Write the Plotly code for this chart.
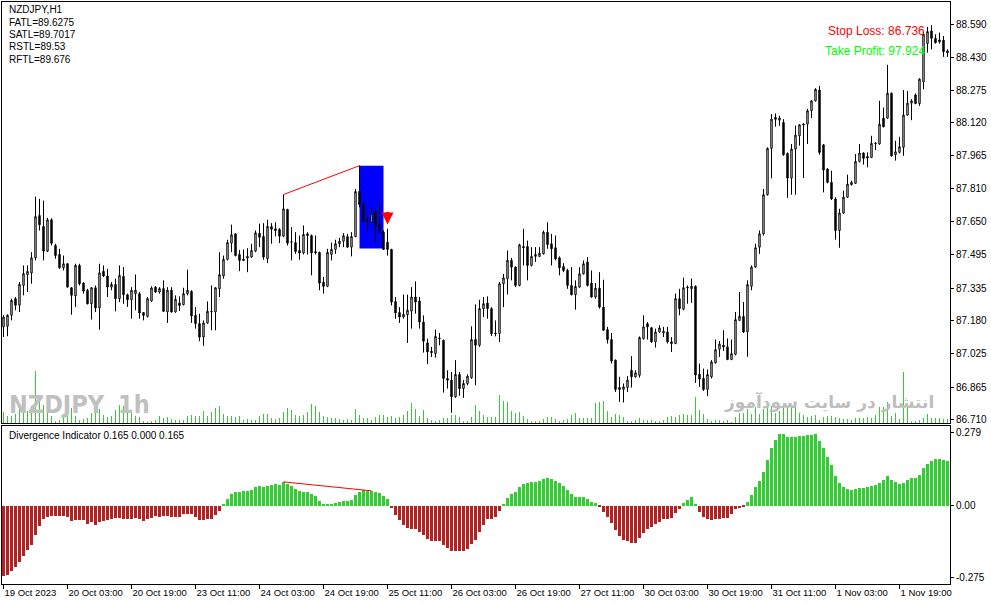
import plotly.graph_objects as go

# ---------------- data ----------------
opens = [87.151,87.154,87.206,87.285,87.254,87.348,87.399,87.407,87.479,87.680,
87.628,87.511,87.660,87.538,87.495,87.432,87.451,87.337,87.298,87.443,
87.359,87.325,87.261,87.337,87.241,87.415,87.393,87.340,87.353,87.285,
87.391,87.304,87.280,87.309,87.309,87.219,87.201,87.274,87.340,87.317,
87.333,87.222,87.325,87.222,87.265,87.257,87.309,87.320,87.206,87.167,
87.103,87.170,87.222,87.222,87.332,87.393,87.472,87.549,87.593,87.495,
87.473,87.478,87.483,87.511,87.596,87.581,87.475,87.628,87.617,87.614,
87.582,87.709,87.554,87.552,87.514,87.502,87.593,87.585,87.509,87.505,
87.363,87.344,87.495,87.519,87.546,87.558,87.580,87.530,87.580,87.794,
87.732,87.659,87.648,87.696,87.637,87.601,87.553,87.519,87.272,87.219,
87.198,87.209,87.226,87.293,87.274,87.174,87.075,87.035,87.024,87.094,
87.087,86.906,86.898,86.819,86.925,86.858,86.882,86.909,87.091,87.064,
87.238,87.264,87.238,87.122,87.119,87.356,87.380,87.467,87.435,87.348,
87.533,87.533,87.443,87.486,87.486,87.498,87.601,87.546,87.527,87.479,
87.438,87.419,87.348,87.304,87.340,87.403,87.459,87.359,87.293,87.335,
87.245,87.138,87.091,86.993,86.863,86.854,86.863,86.945,86.914,86.921,
87.095,87.166,87.147,87.080,87.127,87.122,87.127,87.080,87.072,87.285,
87.235,87.336,87.332,87.344,86.926,86.906,86.854,86.914,86.980,87.045,
87.064,87.056,86.996,87.021,87.182,87.201,87.127,87.344,87.435,87.530,
87.593,87.779,87.999,88.146,88.133,88.122,87.975,87.858,87.996,88.059,
88.110,88.114,88.178,88.225,88.276,88.016,87.901,87.838,87.759,87.609,
87.692,87.767,87.827,87.833,87.937,87.977,87.960,87.956,88.021,88.020,
88.143,88.143,88.261,87.969,87.980,88.004,88.157,88.214,88.253,88.212,
88.315,88.497,88.557,88.522,88.514,88.513,88.462]

highs = [87.206,87.211,87.285,87.293,87.364,87.443,87.443,87.506,87.770,87.759,
87.751,87.669,87.667,87.546,87.522,87.490,87.454,87.340,87.451,87.451,
87.364,87.332,87.340,87.348,87.451,87.443,87.427,87.364,87.380,87.443,
87.435,87.309,87.340,87.400,87.317,87.222,87.293,87.344,87.344,87.340,
87.372,87.340,87.340,87.301,87.296,87.337,87.423,87.325,87.246,87.214,
87.182,87.272,87.348,87.340,87.506,87.490,87.565,87.637,87.596,87.517,
87.519,87.525,87.546,87.609,87.641,87.644,87.660,87.644,87.648,87.620,
87.780,87.712,87.625,87.601,87.585,87.633,87.601,87.590,87.585,87.509,
87.388,87.522,87.551,87.565,87.574,87.596,87.593,87.601,87.806,87.917,
87.743,87.680,87.712,87.716,87.743,87.609,87.617,87.522,87.293,87.245,
87.305,87.304,87.340,87.367,87.293,87.206,87.095,87.056,87.138,87.122,
87.091,86.945,86.937,86.993,86.937,86.898,86.926,87.154,87.258,87.280,
87.293,87.296,87.245,87.182,87.364,87.403,87.514,87.479,87.438,87.546,
87.617,87.561,87.530,87.530,87.530,87.609,87.648,87.593,87.585,87.486,
87.454,87.427,87.435,87.372,87.435,87.467,87.482,87.419,87.359,87.411,
87.375,87.151,87.122,86.996,86.914,86.882,86.917,87.012,86.945,87.106,
87.206,87.174,87.151,87.143,87.159,87.151,87.151,87.103,87.309,87.332,
87.385,87.348,87.380,87.348,86.977,86.953,86.949,86.993,87.091,87.084,
87.135,87.096,87.091,87.222,87.317,87.269,87.372,87.443,87.546,87.609,
87.806,88.004,88.162,88.165,88.154,88.138,87.980,88.020,88.107,88.114,
88.118,88.186,88.228,88.285,88.296,88.020,87.905,87.893,87.767,87.712,
87.798,87.874,87.846,87.972,88.020,87.980,87.980,88.059,88.028,88.225,
88.193,88.396,88.264,88.035,88.054,88.276,88.272,88.233,88.260,88.332,
88.552,88.576,88.585,88.541,88.549,88.533,88.470]

lows = [87.103,87.107,87.182,87.230,87.222,87.301,87.317,87.356,87.467,87.609,
87.467,87.506,87.538,87.475,87.427,87.419,87.337,87.209,87.246,87.348,
87.309,87.258,87.186,87.222,87.138,87.388,87.293,87.325,87.225,87.269,
87.261,87.246,87.190,87.230,87.190,87.182,87.195,87.269,87.312,87.309,
87.222,87.170,87.219,87.218,87.227,87.253,87.301,87.170,87.143,87.083,
87.061,87.166,87.135,87.135,87.293,87.380,87.467,87.506,87.486,87.416,
87.464,87.411,87.479,87.506,87.530,87.470,87.454,87.546,87.581,87.549,
87.577,87.538,87.467,87.498,87.470,87.495,87.495,87.396,87.495,87.325,
87.309,87.340,87.467,87.498,87.530,87.530,87.527,87.486,87.577,87.719,
87.648,87.601,87.644,87.553,87.596,87.517,87.490,87.253,87.190,87.170,
87.190,87.075,87.143,87.214,87.143,87.029,86.974,87.008,87.005,87.064,
86.839,86.858,86.743,86.814,86.824,86.814,86.874,86.905,86.874,87.056,
87.198,87.190,87.108,87.106,87.079,87.245,87.305,87.372,87.340,87.344,
87.443,87.372,87.438,87.459,87.482,87.495,87.522,87.443,87.467,87.396,
87.411,87.332,87.301,87.233,87.337,87.400,87.343,87.290,87.285,87.238,
87.133,87.072,86.977,86.842,86.795,86.792,86.842,86.863,86.910,86.910,
87.091,87.091,87.075,87.053,87.122,87.103,87.072,87.032,87.069,87.206,
87.230,87.261,87.265,86.885,86.866,86.847,86.822,86.906,86.977,87.008,
87.037,86.993,86.993,87.016,87.179,87.122,87.009,87.325,87.432,87.498,
87.585,87.775,87.857,88.102,88.106,87.964,87.764,87.779,87.779,88.012,
87.858,88.020,88.143,88.222,87.969,87.790,87.833,87.754,87.565,87.527,
87.688,87.764,87.822,87.830,87.933,87.922,87.909,87.953,87.991,88.016,
88.099,88.140,87.960,87.941,87.975,87.964,88.154,88.133,88.209,88.201,
88.280,88.454,88.470,88.497,88.497,88.434,88.434]

closes = [87.198,87.206,87.277,87.254,87.353,87.404,87.415,87.479,87.675,87.636,
87.511,87.660,87.549,87.490,87.432,87.451,87.340,87.301,87.443,87.356,
87.321,87.261,87.337,87.241,87.408,87.393,87.340,87.353,87.285,87.396,
87.304,87.280,87.325,87.325,87.217,87.206,87.285,87.336,87.317,87.333,
87.225,87.325,87.222,87.282,87.253,87.309,87.325,87.203,87.167,87.103,
87.170,87.225,87.225,87.337,87.399,87.472,87.552,87.588,87.490,87.467,
87.467,87.486,87.514,87.598,87.577,87.483,87.628,87.615,87.609,87.582,
87.712,87.549,87.555,87.509,87.502,87.590,87.585,87.502,87.503,87.359,
87.344,87.505,87.519,87.546,87.558,87.584,87.530,87.580,87.794,87.732,
87.653,87.653,87.691,87.633,87.601,87.519,87.519,87.269,87.217,87.198,
87.211,87.230,87.293,87.269,87.174,87.083,87.032,87.029,87.106,87.097,
86.906,86.898,86.819,86.925,86.858,86.882,86.917,87.091,87.064,87.238,
87.261,87.238,87.119,87.119,87.356,87.384,87.467,87.435,87.348,87.541,
87.527,87.443,87.486,87.495,87.501,87.601,87.542,87.522,87.474,87.432,
87.419,87.348,87.304,87.343,87.403,87.451,87.348,87.293,87.335,87.245,
87.135,87.091,86.989,86.854,86.854,86.866,86.898,86.914,86.933,87.100,
87.151,87.151,87.080,87.127,87.146,87.130,87.080,87.072,87.285,87.238,
87.337,87.340,87.344,86.922,86.903,86.854,86.925,86.985,87.043,87.069,
87.056,86.996,87.024,87.186,87.201,87.127,87.352,87.435,87.527,87.593,
87.779,87.999,88.138,88.137,88.143,87.969,87.858,87.996,88.062,88.111,
88.114,88.178,88.225,88.280,87.980,87.896,87.838,87.759,87.609,87.692,
87.767,87.830,87.838,87.937,87.977,87.952,87.953,88.023,88.024,88.114,
88.102,88.261,87.964,87.983,88.007,88.157,88.214,88.225,88.212,88.328,
88.541,88.554,88.522,88.501,88.506,88.459,88.454]

tick_volume = [11,7,7,9,17,13,12,17,52,24,18,13,7,2,3,6,10,15,7,3,
4,5,10,11,14,8,6,7,13,18,17,11,10,7,6,2,1,2,3,7,
5,6,4,3,3,3,7,8,7,7,12,7,11,15,17,9,7,7,6,7,
3,4,3,3,7,9,9,5,4,5,11,15,13,8,7,8,11,19,17,11,
7,6,5,5,4,3,4,3,14,8,5,5,3,6,8,8,6,7,5,6,
8,12,20,14,7,13,5,3,2,3,5,5,8,8,6,2,2,6,18,12,
8,6,6,6,28,22,21,12,10,11,7,4,2,2,2,4,6,6,4,2,
3,4,8,10,5,5,5,5,20,21,22,12,6,9,8,6,2,2,3,5,
3,3,3,2,2,3,6,7,6,8,9,8,8,26,13,9,4,2,3,3,
2,3,1,6,10,10,14,9,16,9,14,17,17,10,12,16,16,16,16,10,
8,6,7,8,3,6,7,7,6,5,4,4,3,5,5,5,6,5,8,16,
16,21,7,10,4,51,19,2,2,3,5,9,5,5,5,4,4]

divergence = [-0.270,-0.263,-0.251,-0.235,-0.216,-0.193,-0.170,-0.149,-0.111,-0.079,
-0.053,-0.043,-0.038,-0.038,-0.041,-0.041,-0.043,-0.060,-0.056,-0.056,
-0.056,-0.069,-0.064,-0.075,-0.064,-0.060,-0.056,-0.051,-0.047,-0.047,
-0.051,-0.051,-0.051,-0.047,-0.053,-0.060,-0.053,-0.047,-0.041,-0.043,
-0.041,-0.041,-0.042,-0.042,-0.042,-0.033,-0.031,-0.033,-0.042,-0.055,
-0.055,-0.051,-0.051,-0.036,-0.020,0.003,0.025,0.045,0.052,0.052,
0.056,0.056,0.060,0.069,0.075,0.069,0.075,0.079,0.083,0.079,
0.090,0.083,0.075,0.064,0.056,0.052,0.052,0.045,0.037,0.018,
0.003,0.003,0.006,0.010,0.014,0.018,0.018,0.022,0.041,0.052,
0.060,0.056,0.056,0.052,0.048,0.037,0.025,-0.008,-0.036,-0.057,
-0.073,-0.084,-0.088,-0.088,-0.099,-0.111,-0.126,-0.134,-0.134,-0.134,
-0.149,-0.160,-0.172,-0.172,-0.172,-0.172,-0.164,-0.145,-0.130,-0.099,
-0.073,-0.053,-0.050,-0.042,-0.019,0.006,0.029,0.045,0.052,0.071,
0.083,0.087,0.090,0.090,0.094,0.102,0.106,0.102,0.094,0.087,
0.075,0.060,0.045,0.033,0.033,0.033,0.025,0.014,0.010,-0.004,
-0.023,-0.042,-0.065,-0.095,-0.115,-0.130,-0.137,-0.141,-0.141,-0.122,
-0.103,-0.088,-0.080,-0.069,-0.061,-0.053,-0.050,-0.046,-0.027,-0.015,
0.008,0.022,0.034,0.003,-0.025,-0.042,-0.053,-0.057,-0.053,-0.050,
-0.046,-0.046,-0.031,-0.015,-0.010,-0.006,0.015,0.041,0.069,0.094,
0.127,0.174,0.219,0.251,0.272,0.272,0.261,0.261,0.261,0.265,
0.265,0.268,0.268,0.272,0.247,0.219,0.184,0.155,0.113,0.085,
0.071,0.064,0.060,0.064,0.067,0.067,0.071,0.075,0.079,0.087,
0.098,0.113,0.098,0.090,0.083,0.087,0.098,0.103,0.106,0.117,
0.142,0.159,0.170,0.178,0.178,0.174,0.170]

time_ticks = [0, 16, 32, 48, 64, 80, 96, 112, 128, 144, 160, 176, 192, 208, 224]
time_labels = ["19 Oct 2023", "20 Oct 03:00", "20 Oct 19:00", "23 Oct 11:00",
               "24 Oct 03:00", "24 Oct 19:00", "25 Oct 11:00", "26 Oct 03:00",
               "26 Oct 19:00", "27 Oct 11:00", "30 Oct 03:00", "30 Oct 19:00",
               "31 Oct 11:00", "1 Nov 03:00", "1 Nov 19:00"]
price_ticks = [88.590, 88.430, 88.275, 88.120, 87.965, 87.810, 87.650,
               87.495, 87.335, 87.180, 87.025, 86.865, 86.710]
ind_ticks = [0.279, 0.0, -0.275]
ind_labels = ["0.279", "0.00", "-0.275"]

info_lines = ["NZDJPY,H1", "FATL=89.6275", "SATL=89.7017", "RSTL=89.53", "RFTL=89.676"]

# divergence line endpoints (bar indices)
div_start, div_end = 70, 89
ind_div_start, ind_div_end = 70, 92
box_start, box_end = 89, 95
box_top, box_bottom = 87.917, 87.524
signal_bar = 96

# ---------------- figure ----------------
n = len(closes)
idx = list(range(n))
W, H = 991, 605
ML, MR, MT, MB = 2, 41, 2, 21
PW, PH = W - ML - MR, H - MT - MB


def px(xp):
    return (xp - ML) / PW


def py(yp):
    return (H - MB - yp) / PH


FONT = "Liberation Sans, Arial, sans-serif"

fig = go.Figure()

# volume
fig.add_trace(go.Bar(x=idx, y=tick_volume, yaxis="y3", xaxis="x",
                     marker=dict(color="#32CD32", line=dict(width=0)),
                     width=0.25, hoverinfo="skip", showlegend=False))

# candles
fig.add_trace(go.Candlestick(
    x=idx, open=opens, high=highs, low=lows, close=closes,
    increasing=dict(line=dict(color="black", width=1), fillcolor="white"),
    decreasing=dict(line=dict(color="black", width=1), fillcolor="black"),
    whiskerwidth=0, showlegend=False, hoverinfo="skip"))

# divergence line on price
fig.add_trace(go.Scatter(x=[div_start, div_end], y=[highs[div_start], highs[div_end]],
                         mode="lines", line=dict(color="red", width=1),
                         showlegend=False, hoverinfo="skip"))

# indicator histogram
colors = ["#32CD32" if v >= 0 else "#B22222" for v in divergence]
fig.add_trace(go.Bar(x=idx, y=divergence, xaxis="x2", yaxis="y2",
                     marker=dict(color=colors, line=dict(width=0)),
                     width=0.75, showlegend=False, hoverinfo="skip"))
fig.add_trace(go.Scatter(x=[ind_div_start, ind_div_end],
                         y=[divergence[ind_div_start], divergence[ind_div_end]],
                         xaxis="x2", yaxis="y2", mode="lines",
                         line=dict(color="red", width=1),
                         showlegend=False, hoverinfo="skip"))

main_dom = [py(423), 1.0]
low_dom = [0.0, py(426)]
xr = [-0.375, n - 0.375]

axis_common = dict(showgrid=False, zeroline=False, showline=True, linecolor="black",
                   linewidth=1, mirror=True)

fig.update_layout(
    width=W, height=H,
    margin=dict(l=ML, r=MR, t=MT, b=MB, autoexpand=False),
    paper_bgcolor="white", plot_bgcolor="white",
    font=dict(family=FONT, size=10, color="black"),
    bargap=0, boxgap=0.5,
    xaxis=dict(domain=[0, 1], range=xr, anchor="y", showticklabels=False, ticks="",
               rangeslider=dict(visible=False), **axis_common),
    yaxis=dict(domain=main_dom, range=[86.6945, 88.6945], side="right",
               tickvals=price_ticks, ticktext=[f"{v:.3f}" for v in price_ticks],
               ticks="outside", ticklen=3, tickcolor="black",
               tickfont=dict(size=10, family=FONT), **axis_common),
    yaxis3=dict(domain=main_dom, range=[0, 421], overlaying="y", visible=False,
                anchor="x"),
    xaxis2=dict(domain=[0, 1], range=xr, anchor="y2", matches="x",
                tickvals=time_ticks, ticktext=time_labels,
                ticks="outside", ticklen=4, tickcolor="black",
                ticklabelposition="outside right",
                tickfont=dict(size=9.5, family=FONT), **axis_common),
    yaxis2=dict(domain=low_dom, range=[-0.299, 0.303], side="right", anchor="x2",
                tickvals=ind_ticks, ticktext=ind_labels,
                ticks="outside", ticklen=3, tickcolor="black",
                tickfont=dict(size=10, family=FONT), **axis_common),
)

# blue signal box
fig.add_shape(type="rect", xref="x", yref="y", x0=box_start, x1=box_end,
              y0=box_bottom, y1=box_top, fillcolor="#0000FF",
              line=dict(width=0), layer="below")

ann = []
for k, t in enumerate(info_lines):
    ann.append(dict(x=px(7), y=py(10 + 12.3 * k), xref="paper", yref="paper",
                    text=t, showarrow=False, xanchor="left", yanchor="middle",
                    font=dict(size=10, color="black", family=FONT)))
ann.append(dict(x=px(7), y=py(435), xref="paper", yref="paper",
                text="Divergence Indicator 0.165 0.000 0.165", showarrow=False,
                xanchor="left", yanchor="middle",
                font=dict(size=10, color="black", family=FONT)))
ann.append(dict(x=px(927), y=py(31), xref="paper", yref="paper",
                text="Stop Loss: 86.736", showarrow=False, xanchor="right",
                yanchor="middle", font=dict(size=12, color="#FF0000", family=FONT)))
ann.append(dict(x=px(927), y=py(51), xref="paper", yref="paper",
                text="Take Profit: 97.924", showarrow=False, xanchor="right",
                yanchor="middle", font=dict(size=12, color="#00FF00", family=FONT)))
WM = "Liberation Sans Narrow, DejaVu Sans Condensed, Liberation Sans, sans-serif"
ann.append(dict(x=px(7), y=py(404), xref="paper", yref="paper",
                text="<b>NZDJPY</b>", showarrow=False, xanchor="left",
                yanchor="middle", font=dict(size=25, color="#C0C0C0", family=WM)))
ann.append(dict(x=px(116), y=py(404), xref="paper", yref="paper",
                text="<b>1h</b>", showarrow=False, xanchor="left",
                yanchor="middle", font=dict(size=25, color="#C0C0C0", family=WM)))
ann.append(dict(x=px(936), y=py(402), xref="paper", yref="paper",
                text="<b>انتشار در سایت سودآموز</b>", showarrow=False, xanchor="right",
                yanchor="middle", font=dict(size=17, color="#BEBEBE",
                                            family="DejaVu Sans, sans-serif")))
# sell arrow
ann.append(dict(x=signal_bar, y=highs[signal_bar] + 0.02, xref="x", yref="y",
                ax=0, ay=-14, showarrow=True, arrowhead=2, arrowsize=0.8,
                arrowwidth=3, arrowcolor="#FF0000", text=""))
fig.update_layout(annotations=ann)

fig.write_html("out.html", config={"displayModeBar": False},
               post_script="document.body.style.margin='0px';")
